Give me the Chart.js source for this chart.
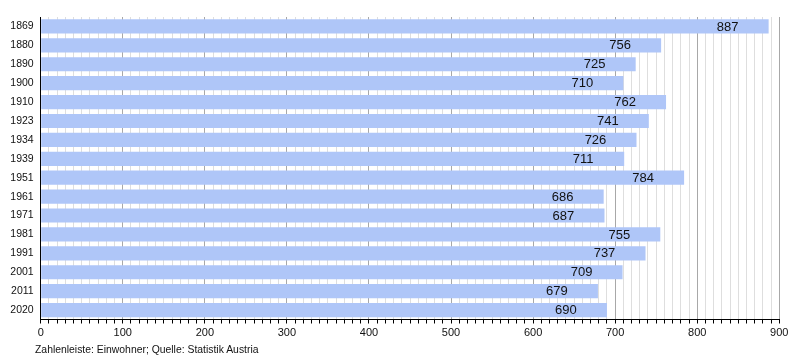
<!DOCTYPE html>
<html>
<head>
<meta charset="utf-8">
<script src="https://cdn.jsdelivr.net/npm/chart.js@4/dist/chart.umd.min.js"></script>
<style>
  html, body { margin: 0; padding: 0; background: #fff; }
  #wrap { position: relative; width: 800px; height: 360px; }
  #note {
    position: absolute; left: 35px; top: 344px;
    font: 10.4px "Liberation Sans", Arial, sans-serif; color: #111;
  }
</style>
</head>
<body>
<div id="wrap">
  <canvas id="chart"></canvas>
  <div id="note">Zahlenleiste: Einwohner; Quelle: Statistik Austria</div>
</div>
<script>
// Volkszählungsjahre und Einwohner
const years = ['1869', '1880', '1890', '1900', '1910', '1923', '1934', '1939',
               '1951', '1961', '1971', '1981', '1991', '2001', '2011', '2020'];
const population = [887, 756, 725, 710, 762, 741, 726, 711,
                    784, 686, 687, 755, 737, 709, 679, 690];
const xMin = 0;
const xMax = 900;
const xStep = 10;      // minor grid
const xLabelStep = 100; // labelled ticks

const FONT = '"Liberation Sans", Arial, sans-serif';

// value labels sit inside the bar, a bit before its end
const valueLabels = {
  id: 'valueLabels',
  afterDatasetsDraw(chart) {
    const { ctx } = chart;
    const xs = chart.scales.x;
    const meta = chart.getDatasetMeta(0);
    ctx.save();
    ctx.font = '13px ' + FONT;
    ctx.fillStyle = '#111';
    ctx.textAlign = 'center';
    ctx.textBaseline = 'middle';
    meta.data.forEach((bar, i) => {
      const v = population[i];
      ctx.fillText(String(v), xs.getPixelForValue(v - 50), bar.y + 0.5);
    });
    ctx.restore();
  }
};

new Chart(document.getElementById('chart'), {
  type: 'bar',
  data: {
    labels: years,
    datasets: [{
      data: population,
      backgroundColor: '#afc6f8',
      borderWidth: 0,
      barPercentage: 0.75,
      categoryPercentage: 1
    }]
  },
  options: {
    indexAxis: 'y',
    responsive: true,
    maintainAspectRatio: false,
    animation: false,
    layout: { padding: { top: 17, right: 20.7, left: 0, bottom: 0 } },
    plugins: {
      legend: { display: false },
      tooltip: { enabled: false }
    },
    scales: {
      x: {
        min: xMin,
        max: xMax,
        afterFit: s => { s.height = 40.5; },
        border: { display: true, color: '#000', width: 1 },
        grid: {
          color: c => (c.tick && c.tick.value % xLabelStep === 0) ? '#a8a8a8' : '#dedede',
          tickColor: '#000',
          tickLength: 4,
          lineWidth: 1
        },
        ticks: {
          stepSize: xStep,
          autoSkip: false,
          maxRotation: 0,
          padding: 3,
          color: '#111',
          font: { family: FONT, size: 11 },
          callback: v => (v % xLabelStep === 0 ? v : '')
        }
      },
      y: {
        afterFit: s => { s.width = 40.7; },
        border: { display: true, color: '#000', width: 1 },
        grid: { drawOnChartArea: false, drawTicks: false },
        ticks: {
          padding: 7,
          color: '#111',
          font: { family: FONT, size: 10.5 }
        }
      }
    }
  },
  plugins: [valueLabels]
});
</script>
</body>
</html>
